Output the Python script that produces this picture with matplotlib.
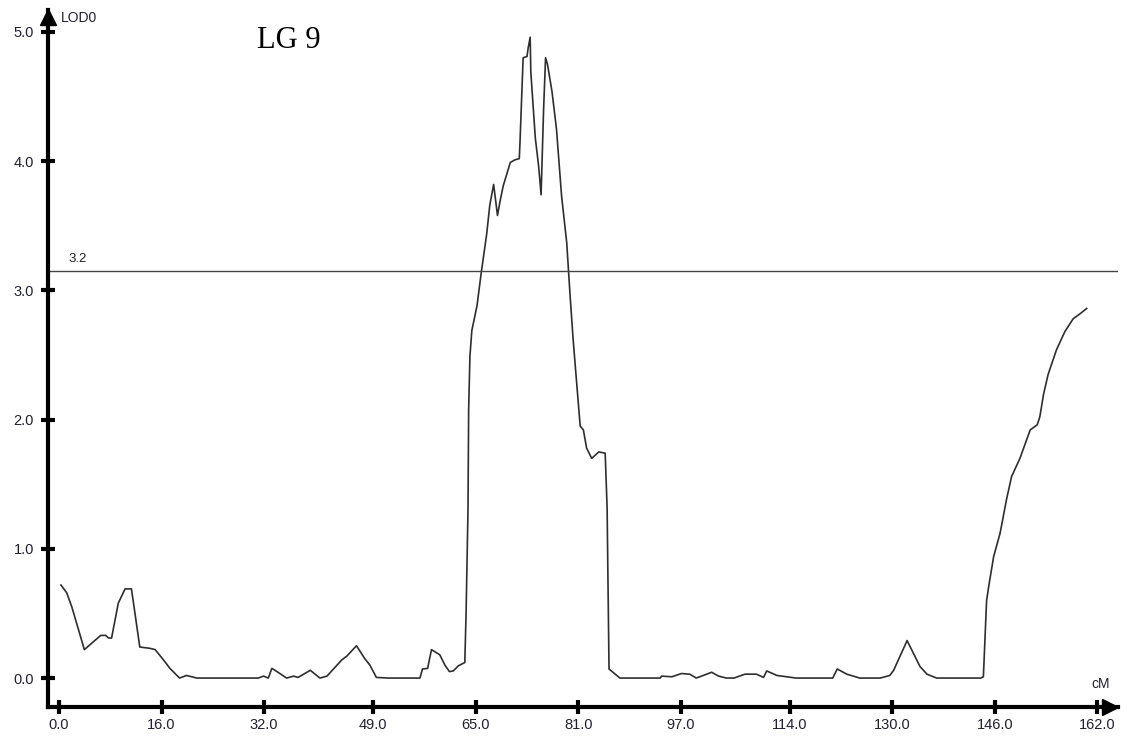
import matplotlib
matplotlib.use("Agg")
import matplotlib.pyplot as plt

# LOD profile for linkage group 9
pos_cm = [0.3, 1.2, 2.0, 3.95, 5.35, 6.5, 7.3, 7.7, 8.2, 9.25, 10.3, 11.3, 12.6, 14.2, 15.0,
          16.3, 17.3, 18.8, 19.9, 21.5, 31.1, 31.9, 32.65, 33.2, 34.0, 35.5, 36.6, 37.3, 39.2,
          40.7, 41.8, 44.1, 44.9, 46.4, 47.7, 48.5, 49.5, 51.4, 56.3, 56.7, 57.5, 58.1, 59.4,
          60.2, 60.9, 61.5, 62.3, 63.3, 63.5, 63.8, 63.9, 64.1, 64.4, 65.2, 65.9, 66.7, 67.2,
          67.8, 68.0, 68.4, 68.8, 69.3, 70.4, 71.1, 71.8, 71.9, 72.4, 73.0, 73.2, 73.5, 73.6,
          74.3, 74.8, 75.0, 75.2, 75.6, 75.9, 76.2, 76.9, 77.6, 78.4, 79.2, 79.7, 80.2, 80.8,
          81.3, 81.8, 82.3, 83.1, 84.2, 85.2, 85.5, 85.7, 85.8, 87.5, 93.8, 94.0, 95.6, 97.1,
          98.4, 99.4, 100.5, 101.8, 102.9, 104.1, 105.3, 107.0, 108.8, 109.9, 110.4, 112.0,
          113.5, 114.3, 115.0, 120.7, 121.4, 122.9, 123.9, 124.9, 128.1, 129.6, 130.2, 132.3,
          133.3, 134.3, 135.4, 136.9, 143.8, 144.2, 144.5, 144.7, 145.1, 145.8, 146.8, 147.8,
          148.6, 149.9, 151.5, 152.6, 153.0, 153.6, 154.3, 155.6, 156.9, 158.2, 159.3, 160.3]
lod = [0.72, 0.66, 0.55, 0.22, 0.28, 0.33, 0.33, 0.31, 0.31, 0.58, 0.69, 0.69, 0.24, 0.23, 0.22,
       0.14, 0.075, 0.0, 0.02, 0.0, 0.0, 0.015, 0.0, 0.075, 0.05, 0.0, 0.015, 0.005, 0.06,
       0.0, 0.015, 0.14, 0.17, 0.25, 0.15, 0.10, 0.005, 0.0, 0.0, 0.07, 0.075, 0.22, 0.18,
       0.10, 0.05, 0.055, 0.095, 0.12, 0.5, 1.30, 2.07, 2.49, 2.69, 2.88, 3.15, 3.43, 3.66,
       3.82, 3.74, 3.58, 3.69, 3.81, 3.99, 4.01, 4.02, 4.13, 4.80, 4.81, 4.88, 4.96, 4.69,
       4.18, 3.97, 3.86, 3.74, 4.41, 4.80, 4.75, 4.54, 4.25, 3.73, 3.37, 2.98, 2.62, 2.26,
       1.95, 1.92, 1.78, 1.70, 1.75, 1.74, 1.32, 0.48, 0.07, 0.0, 0.0, 0.015, 0.01, 0.035,
       0.03, 0.0, 0.02, 0.045, 0.015, 0.0, 0.0, 0.03, 0.03, 0.005, 0.055, 0.02,
       0.01, 0.005, 0.0, 0.0, 0.07, 0.03, 0.015, 0.0, 0.0, 0.02, 0.06, 0.29,
       0.19, 0.09, 0.03, 0.0, 0.0, 0.01, 0.37, 0.60, 0.73, 0.94, 1.12, 1.38,
       1.56, 1.70, 1.92, 1.96, 2.02, 2.20, 2.35, 2.54, 2.68, 2.78, 2.82, 2.86]

x_ticks = [0, 16, 32, 49, 65, 81, 97, 114, 130, 146, 162]
y_ticks = [0, 1, 2, 3, 4, 5]
threshold = 3.15
threshold_label = "3.2"

W, H = 1127, 738
fig = plt.figure(figsize=(W / 100, H / 100), dpi=100)
# axes box in pixels: left 48, right 1118, bottom 707, top 10
ax = fig.add_axes([48 / W, (H - 707) / H, (1118 - 48) / W, (707 - 10) / H])

ax.plot(pos_cm, lod, color="#2e2e2e", lw=1.2)
ax.axhline(threshold, color="#444444", lw=1.0)
ax.text(1.5, threshold + 0.05, threshold_label, fontsize=9.5, family="Liberation Sans",
        color="#202030", va="bottom")

ax.set_xlim(-1.72, 165.2)
ax.set_ylim(-0.224, 5.17)

for s in ["top", "right"]:
    ax.spines[s].set_visible(False)
for s in ["left", "bottom"]:
    ax.spines[s].set_linewidth(3)
    ax.spines[s].set_color("black")

ax.set_xticks(x_ticks)
ax.set_xticklabels([f"{v:.1f}" for v in x_ticks])
ax.set_yticks(y_ticks)
ax.set_yticklabels([f"{v:.1f}" for v in y_ticks])
ax.tick_params(direction="inout", length=10, width=3, color="black",
               labelsize=10.5, labelcolor="#202030")
for lab in ax.get_xticklabels() + ax.get_yticklabels():
    lab.set_family("Liberation Sans")
ax.tick_params(axis="x", pad=3)
ax.tick_params(axis="y", pad=5)

# arrow heads at the ends of the axes
ax.plot(0, 0.99, marker="^", color="black", markersize=11, transform=ax.transAxes, clip_on=False)
ax.plot(0.9925, 0, marker=">", color="black", markersize=11, transform=ax.transAxes, clip_on=False)

fig.text(61 / W, 1 - 18 / H, "LOD0", fontsize=10, family="Liberation Sans",
         color="#202030", va="center", ha="left")
fig.text(1101 / W, 1 - 684 / H, "cM", fontsize=10, family="Liberation Sans",
         color="#202030", va="center", ha="center")
fig.text(257 / W, 1 - 40 / H, "LG 9", fontsize=22, family="Liberation Serif",
         color="black", va="center", ha="left")

fig.savefig("out.png", dpi=100)
